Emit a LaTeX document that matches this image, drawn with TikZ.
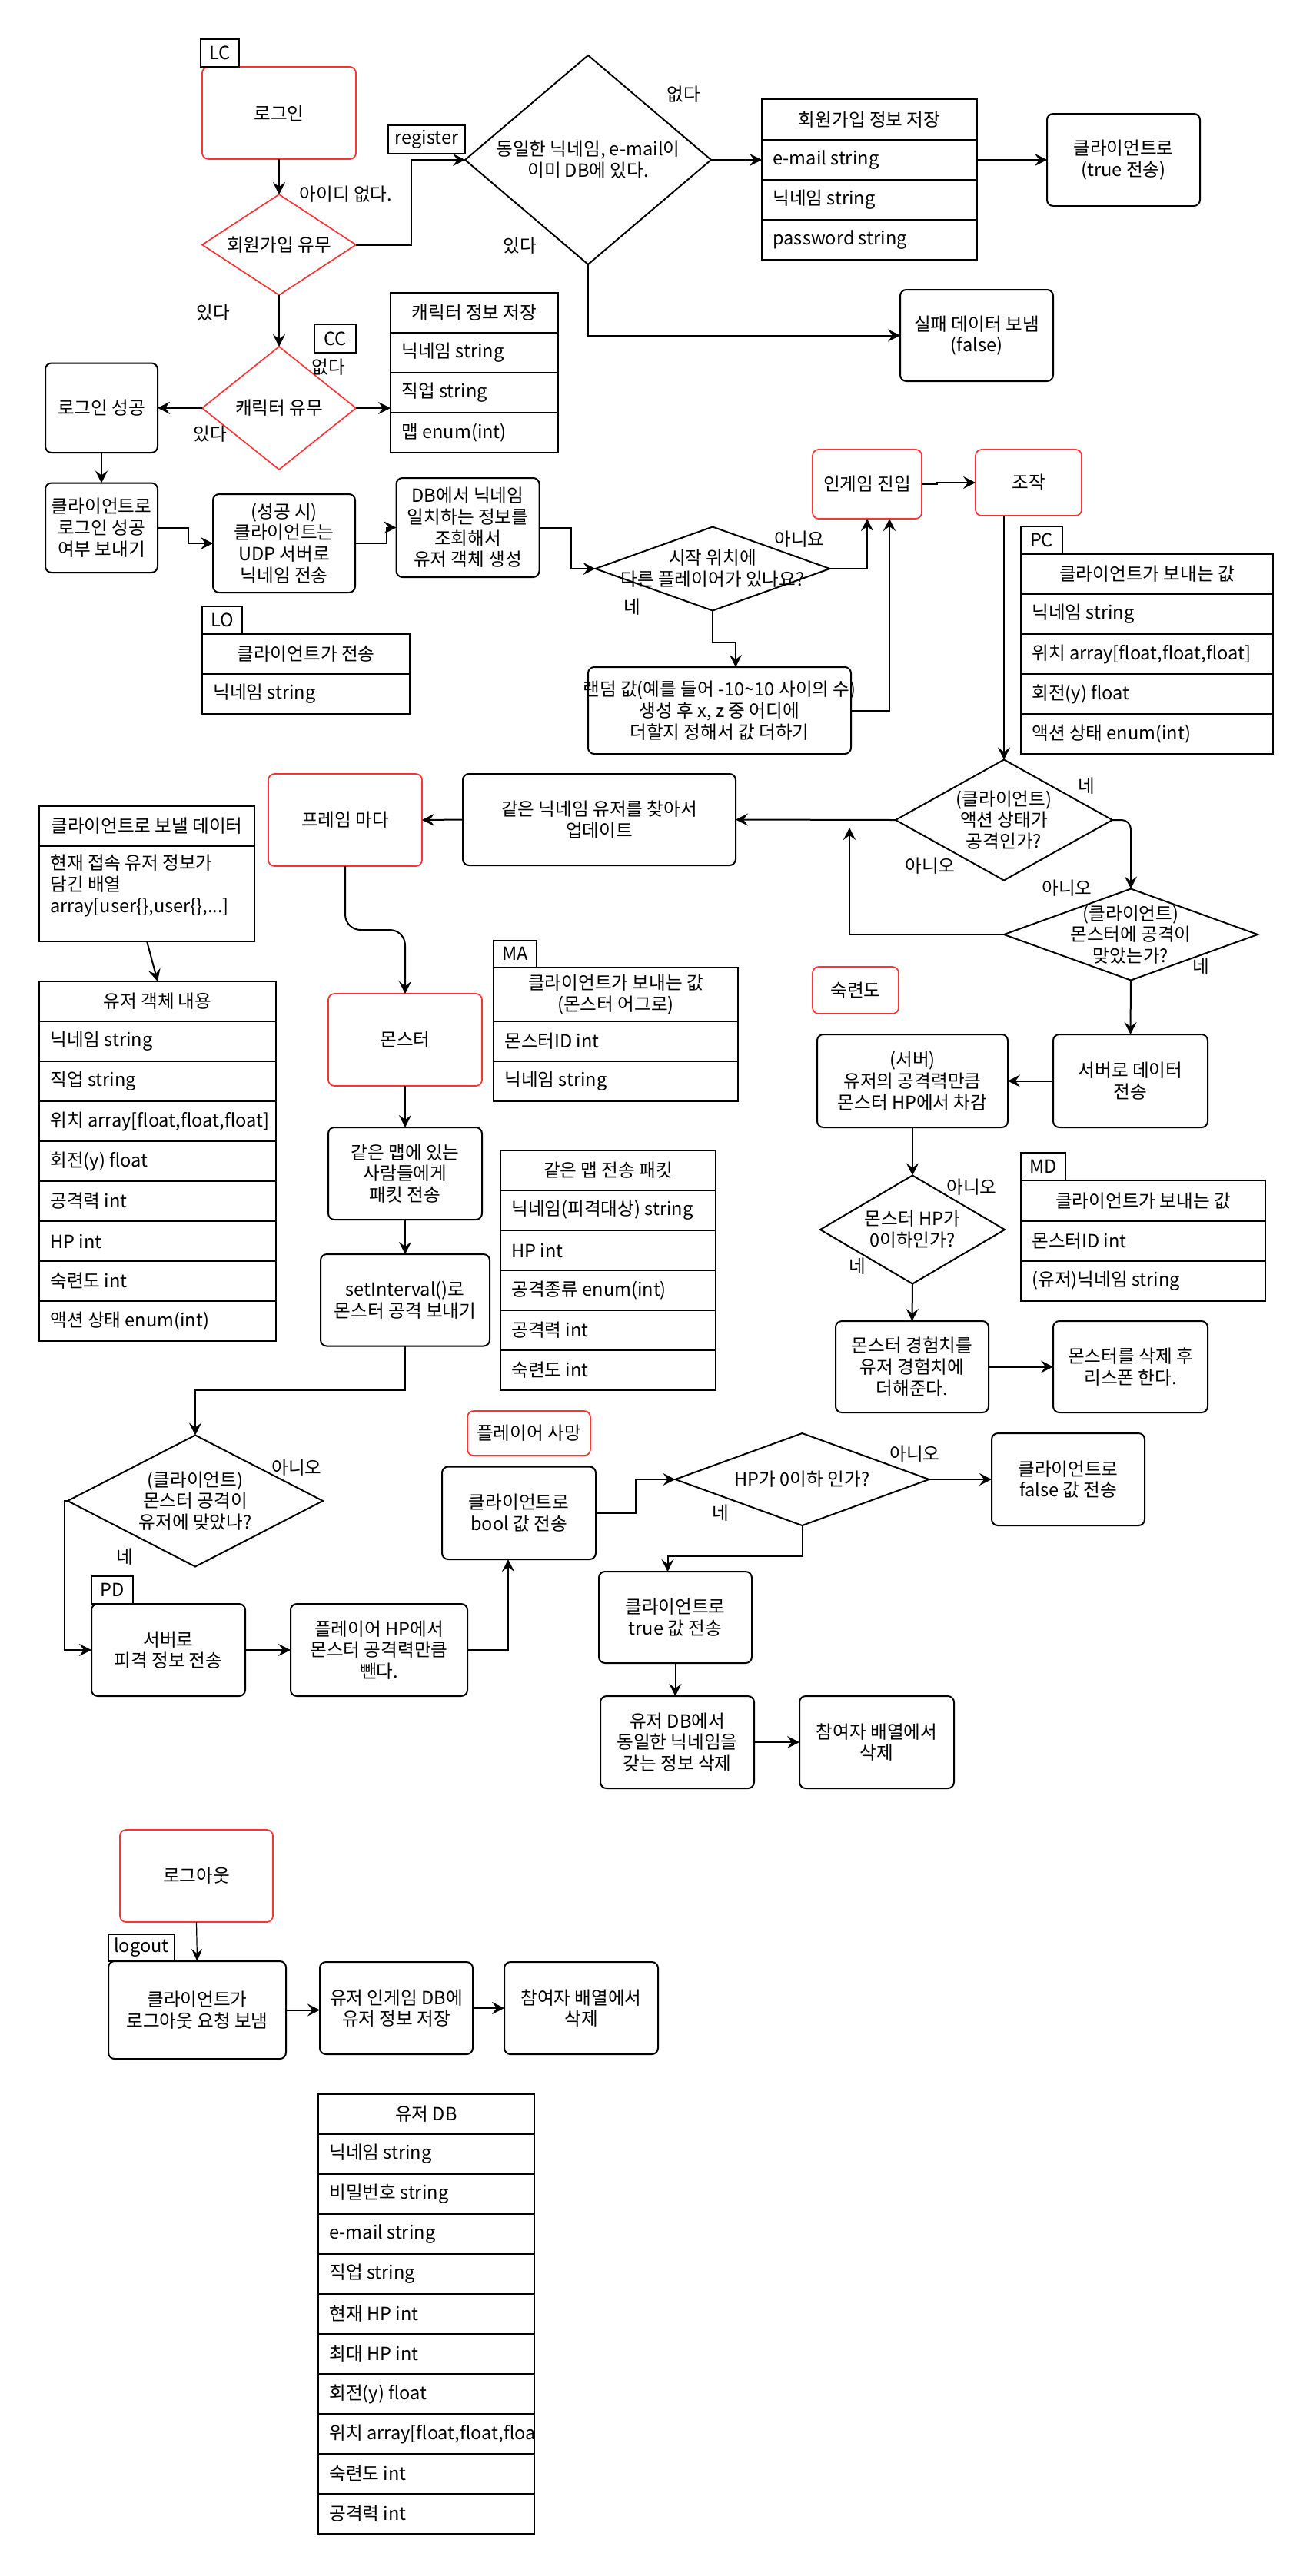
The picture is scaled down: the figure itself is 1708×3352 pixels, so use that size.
\documentclass[tikz,border=0pt]{standalone}
\usepackage{fontspec}
\setmainfont{Noto Sans CJK KR}
\usetikzlibrary{shapes.geometric,arrows.meta,calc}
\definecolor{redc}{HTML}{FF3333}
\newcommand\fs{\fontsize{11.8pt}{13.85pt}\selectfont}
% box: [style]{name}{x1}{y1}{x2}{y2}{text}
\newcommand\bx[7][box]{%
  \pgfmathsetmacro\bcx{((#3)+(#5))/2}%
  \pgfmathsetmacro\bcy{((#4)+(#6))/2}%
  \pgfmathsetmacro\bw{((#5)-(#3))/2}%
  \pgfmathsetmacro\bh{((#6)-(#4))/2}%
  \node[#1, minimum width=\bw pt, minimum height=\bh pt, inner sep=0pt, outer sep=0pt] (#2) at (\bcx,\bcy) {};%
  \node[align=center, inner sep=0pt] (#2-t) at (\bcx,\bcy) {#7};}
% table row: {name}{x1}{y1}{x2}{y2}{text}
\newcommand\rw[6]{%
  \pgfmathsetmacro\rcx{((#2)+(#4))/2}%
  \pgfmathsetmacro\rcy{((#3)+(#5))/2}%
  \pgfmathsetmacro\rwd{((#4)-(#2))/2}%
  \pgfmathsetmacro\rht{((#5)-(#3))/2}%
  \pgfmathsetmacro\rtx{(#2)+14}%
  \node[cell, minimum width=\rwd pt, minimum height=\rht pt, inner sep=0pt, outer sep=0pt] (#1) at (\rcx,\rcy) {};%
  \node[anchor=west, inner sep=0pt] (#1-t) at (\rtx,\rcy) {#6};}
% table: {name}{x1}{x2}{ytop}{header h}{row h}{header}{rows}
\newcommand\tbl[8]{%
  \bx[cell]{#1}{#2}{#4}{#3}{(#4)+(#5)}{#7}%
  \foreach \rt [count=\ri] in {#8}{%
    \pgfmathsetmacro\ya{(#4)+(#5)+(\ri-1)*(#6)}%
    \pgfmathsetmacro\yb{\ya+(#6)}%
    \rw{#1-r\ri}{#2}{\ya}{#3}{\yb}{\rt}%
  }}
% diamond: [style]{name}{cx}{cy}{w}{h}{text}
\newcommand\dm[7][dia]{%
  \node[#1, minimum width=#5*0.5pt, minimum height=#6*0.5pt, inner sep=0pt, outer sep=0pt] (#2) at (#3,#4) {};%
  \node[align=center, inner sep=0pt] (#2-t) at (#3,#4) {#7};}
\begin{document}
\begin{tikzpicture}[x=0.5pt,y=-0.5pt,
  every node/.style={font=\fs},
  box/.style={draw, line width=1pt, rounded corners=4pt},
  rbox/.style={draw=redc, line width=0.85pt, rounded corners=4pt},
  cell/.style={draw, line width=1pt},
  tag/.style={draw, line width=1pt},
  dia/.style={draw, diamond, line width=1pt},
  rdia/.style={draw=redc, diamond, line width=0.85pt},
  arr/.style={line width=1pt, -{Stealth[length=8pt,width=8pt,inset=3pt]}},
  thinarr/.style={line width=0.6pt, -{Stealth[length=8pt,width=7pt,inset=3pt]}},
  lbl/.style={inner sep=0pt}]
\fill[white] (0,0) rectangle (1708,3352);
\useasboundingbox (0,0) rectangle (1708,3352);

% ---------- login / register ----------
\bx[rbox]{login}{263}{87}{463}{207}{로그인}
\bx[tag]{lc}{261}{51}{311}{87}{LC}
\dm[rdia]{dreg}{363}{318.5}{200}{131}{회원가입 유무}
\bx[tag]{reg}{505}{163}{605}{200}{register}
\dm{bigd}{765}{208}{320}{272}{동일한 닉네임, e-mail이\\이미 DB에 있다.}
\tbl{regtbl}{991}{1271}{129}{53}{52}{회원가입 정보 저장}{e-mail string, 닉네임 string, password string}
\bx{truebox}{1362}{148}{1561}{268}{클라이언트로\\(true 전송)}
\bx{fail}{1171}{377}{1370}{496}{실패 데이터 보냄\\(false)}

% ---------- character ----------
\bx[tag]{cc}{409}{422}{463}{459}{CC}
\dm[rdia]{dchar}{363}{531}{200}{160}{캐릭터 유무}
\tbl{chartbl}{508}{726}{381}{52}{52}{캐릭터 정보 저장}{닉네임 string, 직업 string, 맵 enum(int)}
\bx{logok}{59}{472.5}{205}{589}{로그인 성공}
\bx{sendok}{59}{628.5}{205}{745}{클라이언트로\\로그인 성공\\여부 보내기}
\bx{udp}{277}{643}{462}{771}{(성공 시)\\클라이언트는\\UDP 서버로\\닉네임 전송}
\bx{dbq}{515.5}{622}{701.5}{751}{DB에서 닉네임\\일치하는 정보를\\조회해서\\유저 객체 생성}
\bx[tag]{lo}{263}{789}{315}{825}{LO}
\tbl{lotbl}{263}{533}{825}{52}{52}{클라이언트가 전송}{닉네임 string}
\dm{dstart}{927}{740}{305}{109}{시작 위치에\\다른 플레이어가 있나요?}
\bx{rand}{765}{868}{1107}{981}{랜덤 값(예를 들어 -10\textasciitilde10 사이의 수)\\생성 후 x, z 중 어디에\\더할지 정해서 값 더하기}
\bx[rbox]{ingame}{1057}{585}{1199}{675}{인게임 진입}
\bx[rbox]{ctrl}{1269}{585}{1407}{671}{조작}
\bx[tag]{pc}{1328}{685}{1382}{721}{PC}
\tbl{pctbl}{1328}{1656}{721}{52}{52}{클라이언트가 보내는 값}{닉네임 string, {위치 array[float,float,float]}, 회전(y) float, 액션 상태 enum(int)}

% ---------- frame loop ----------
\dm{daction}{1306}{1067}{282}{157}{(클라이언트)\\액션 상태가\\공격인가?}
\bx{same}{602}{1007}{957}{1126}{같은 닉네임 유저를 찾아서\\업데이트}
\bx[rbox]{frame}{349}{1007}{549}{1127}{프레임 마다}
\bx[cell]{sendhd}{51}{1049}{331}{1101}{클라이언트로 보낼 데이터}
\bx[cell]{sendbody}{51}{1101}{331}{1224.5}{}
\node[anchor=north west, align=left, inner sep=0pt] (sendbody-tx) at (65,1112) {현재 접속 유저 정보가\\담긴 배열\\array[user\{\},user\{\},...]};
\tbl{usertbl}{51}{359}{1277}{52}{52}{유저 객체 내용}{닉네임 string, 직업 string, {위치 array[float,float,float]}, 회전(y) float, 공격력 int, HP int, 숙련도 int, 액션 상태 enum(int)}
\dm{dhit}{1471}{1216}{330}{119}{(클라이언트)\\몬스터에 공격이\\맞았는가?}
\bx[rbox]{mastery}{1057}{1258}{1169}{1319}{숙련도}
\bx{srvdata}{1370}{1346}{1571}{1467}{서버로 데이터\\전송}
\bx{subhp}{1063}{1346}{1311}{1467}{(서버)\\유저의 공격력만큼\\몬스터 HP에서 차감}
\dm{dmhp}{1187}{1600}{240}{141}{몬스터 HP가\\0이하인가?}
\bx[tag]{md}{1328}{1500}{1386}{1536}{MD}
\tbl{mdtbl}{1328}{1646}{1536}{52.5}{52}{클라이언트가 보내는 값}{몬스터ID int, (유저)닉네임 string}
\bx{mexp}{1087}{1719}{1286}{1838}{몬스터 경험치를\\유저 경험치에\\더해준다.}
\bx{resp}{1370}{1719}{1571}{1838}{몬스터를 삭제 후\\리스폰 한다.}

% ---------- monster ----------
\bx[rbox]{monster}{427}{1293}{627}{1413}{몬스터}
\bx[tag]{ma}{642}{1223.5}{698}{1259}{MA}
\tbl{matbl}{642}{960}{1259}{70}{52}{클라이언트가 보내는 값\\(몬스터 어그로)}{몬스터ID int, 닉네임 string}
\bx{sendmap}{427}{1467}{627}{1587}{같은 맵에 있는\\사람들에게\\패킷 전송}
\bx{setint}{417}{1632}{637}{1751.5}{setInterval()로\\몬스터 공격 보내기}
\tbl{maptbl}{651}{931}{1497}{52}{52}{같은 맵 전송 패킷}{닉네임(피격대상) string, HP int, 공격종류 enum(int), 공격력 int, 숙련도 int}
\dm{dmhit}{254}{1953}{332}{171}{(클라이언트)\\몬스터 공격이\\유저에 맞았나?}
\bx[tag]{pd}{119}{2051}{173}{2087}{PD}
\bx{sdhit}{119}{2087}{319}{2207}{서버로\\피격 정보 전송}
\bx{php}{378}{2087}{608}{2207}{플레이어 HP에서\\몬스터 공격력만큼\\뺀다.}
\bx[rbox]{death}{608}{1836}{768}{1894}{플레이어 사망}
\bx{bool}{575}{1908.5}{775}{2029}{클라이언트로\\bool 값 전송}
\dm{dhp}{1043.5}{1925}{330}{120}{HP가 0이하 인가?}
\bx{falsebox}{1290}{1865}{1489}{1985}{클라이언트로\\false 값 전송}
\bx{truebox2}{779}{2045}{978}{2164}{클라이언트로\\true 값 전송}
\bx{deldb}{781}{2207}{981}{2327}{유저 DB에서\\동일한 닉네임을\\갖는 정보 삭제}
\bx{part1}{1040}{2207}{1241}{2327}{참여자 배열에서\\삭제}

% ---------- logout ----------
\bx[rbox]{logout}{156}{2381}{355}{2501}{로그아웃}
\bx[tag]{lgt}{141}{2517}{227}{2552}{logout}
\bx{logreq}{141}{2552}{372}{2679}{클라이언트가\\로그아웃 요청 보냄}
\bx{savedb}{416}{2553}{615}{2673}{유저 인게임 DB에\\유저 정보 저장}
\bx{part2}{656}{2553}{856}{2673}{참여자 배열에서\\삭제}
\tbl{dbtbl}{414}{695}{2725}{52}{52}{유저 DB}{닉네임 string, 비밀번호 string, e-mail string, 직업 string, 현재 HP int, 최대 HP int, 회전(y) float, {위치 array[float,float,floa}, 숙련도 int, 공격력 int}

% ---------- connectors ----------
\coordinate (hitback) at (1105,1077);
\draw[arr] (login.south) -- (dreg.north);
\draw[arr] (dreg.east) -- ++(72,0) |- (bigd.west);
\draw[arr] (bigd.east) -- (regtbl-r1.west);
\draw[arr] (regtbl-r1.east) -- (truebox.west);
\draw[arr] (bigd.south) |- (fail.west);
\draw[arr] (dreg.south) -- (dchar.north);
\draw[arr] (dchar.east) -- (dchar.east -| chartbl-r2.west);
\draw[arr] (dchar.west) -- (logok.east);
\draw[arr] (logok.south) -- (sendok.north);
\draw[arr] (sendok.east) -- ++(40,0) |- (udp.west);
\draw[arr] (udp.east) -- ++(41,0) |- (dbq.west);
\draw[arr] (dbq.east) -- ++(41,0) |- (dstart.west);
\draw[arr] (dstart.east) -| (ingame.south);
\draw[arr] (dstart.south) -- ++(0,41) -| ($(rand.north)+(21,0)$);
\draw[arr] (rand.east) -| ($(ingame.south)+(29,0)$);
\draw[arr] (ingame.east) -- ++(20,0) |- (ctrl.west);
\draw[arr] (daction.north |- ctrl.south) -- (daction.north);
\draw[arr] (daction.west) -- (same.east);
\draw[arr, rounded corners=6pt] (daction.east) -| (dhit.north);
\draw[arr] (dhit.west) -| (hitback);
\draw[arr] (same.west) -- (frame.east);
\draw[arr, rounded corners=10pt] (frame.south) -- ++(0,83) -| (monster.north);
\draw[arr] (monster.south) -- (sendmap.north);
\draw[arr] (sendmap.south) -- (setint.north);
\draw[arr] (setint.south) -- ++(0,57) -| (dmhit.north);
\draw[arr] (dmhit.west) -- ++(-4,0) |- (sdhit.west);
\draw[arr] (sdhit.east) -- (php.west);
\draw[arr] (php.east) -| ($(bool.south)+(-14,0)$);
\draw[arr] (bool.east) -- ++(52,0) |- (dhp.west);
\draw[arr] (dhp.east) -- (falsebox.west);
\draw[arr] (dhp.south) -- ++(0,40) -| ($(truebox2.north)+(-10,0)$);
\draw[arr] (truebox2.south) -- (truebox2.south |- deldb.north);
\draw[arr] (deldb.east) -- (part1.west);
\draw[arr] (dhit.south) -- (srvdata.north);
\draw[arr] (srvdata.west) -- (subhp.east);
\draw[arr] (subhp.south) -- (dmhp.north);
\draw[arr] (dmhp.south) -- (mexp.north);
\draw[arr] (mexp.east) -- (resp.west);
\draw[arr] (sendbody.south) -- (usertbl.north);
\draw[thinarr] (logout.south) -- (logreq.north);
\draw[arr] (logreq.east) -- (logreq.east -| savedb.west);
\draw[arr] (savedb.east) -- (part2.west);

% ---------- edge labels ----------
\node[lbl] (e1) at (450,253) {아이디 없다.};
\node[lbl] (e2) at (889,123) {없다};
\node[lbl] (e3) at (676,320) {있다};
\node[lbl] (e4) at (277,407) {있다};
\node[lbl] (e5) at (427,478) {없다};
\node[lbl] (e6) at (273,565) {있다};
\node[lbl] (e7) at (1040,702) {아니요};
\node[lbl] (e8) at (822,790) {네};
\node[lbl] (e9) at (1413,1023) {네};
\node[lbl] (e10) at (1210,1127) {아니오};
\node[lbl] (e11) at (1388,1156) {아니오};
\node[lbl] (e12) at (1562,1258) {네};
\node[lbl] (e13) at (1264,1545) {아니오};
\node[lbl] (e14) at (1115,1648) {네};
\node[lbl] (e15) at (386,1910) {아니오};
\node[lbl] (e16) at (162,2026) {네};
\node[lbl] (e17) at (1190,1892) {아니오};
\node[lbl] (e18) at (937,1969) {네};
\end{tikzpicture}
\end{document}
